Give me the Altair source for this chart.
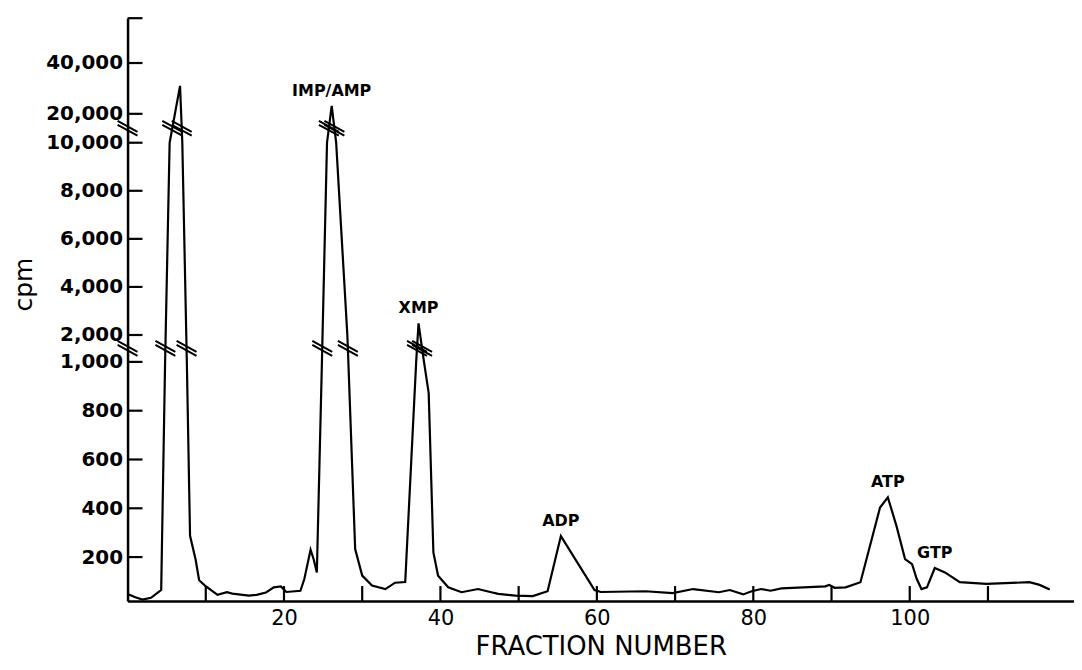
import altair as alt
import pandas as pd

# ---- data ----
FRACTION = [0.0, 1.0, 1.9, 3.0, 3.9, 4.3, 4.8, 5.38, 6.71, 7.0, 7.58, 7.99, 8.7, 9.15, 9.9,
            11.5, 12.7, 13.4, 15.5, 16.5, 17.7, 18.7, 19.6, 20.3, 22.1, 22.6, 23.4, 23.8, 24.2,
            24.85, 25.5, 26.1, 26.67, 28.1, 28.23, 29.1, 30.0, 31.25, 32.96, 34.2, 35.5,
            36.9, 37.2, 37.9, 38.5, 39.1, 39.7, 41.0, 42.7, 44.8, 46.5, 47.4, 49.6, 51.8,
            53.7, 55.4, 59.7, 60.5, 66.2, 69.7, 72.3, 75.6, 77.0, 78.7, 79.8, 81.0, 82.2,
            83.6, 89.2, 89.7, 90.4, 91.8, 93.7, 96.2, 97.2, 98.3, 99.4, 100.3, 100.9, 101.5,
            102.2, 103.2, 104.5, 106.4, 109.8, 115.3, 116.6, 117.9]
CPM = [49, 35, 26, 33, 55, 65, 1000, 10000, 31000, 10000, 1000, 287, 190, 105, 83,
       45, 56, 50, 42, 45, 55, 76, 80, 57, 62, 110, 230, 190, 137,
       1000, 10000, 23100, 10000, 2000, 1000, 233, 124, 83, 69, 95, 98,
       1000, 2485, 1000, 872, 219, 124, 76, 56, 69, 56, 49, 42, 40,
       60, 286, 65, 57, 60, 52, 69, 56, 65, 47, 60, 69, 62,
       72, 80, 86, 74, 76, 97, 403, 445, 328, 192, 171, 110, 69,
       76, 155, 137, 97, 90, 97, 86, 67]

Y_TICKS = [200, 400, 600, 800, 1000, 2000, 4000, 6000, 8000, 10000, 20000, 40000]
X_TICKS = [10, 20, 30, 40, 50, 60, 70, 80, 90, 100, 110]
X_LABELS = [20, 40, 60, 80, 100]
PEAK_NAMES = ["IMP/AMP", "XMP", "ADP", "ATP", "GTP"]
PEAK_FRACTIONS = [26.1, 37.2, 55.4, 97.2, 103.2]

# broken y axis: (cpm_lo, cpm_hi, display_lo, display_hi)
SEGMENTS = [(20, 1000, 0, 240), (2000, 10000, 267, 460), (20000, 40000, 489, 540)]
Y_TOP = 585
X_MAX = 121


def disp(v):
    if v <= 1500:
        lo, hi, dlo, dhi = SEGMENTS[0]
    elif v <= 15000:
        lo, hi, dlo, dhi = SEGMENTS[1]
    else:
        lo, hi, dlo, dhi = SEGMENTS[2]
    return dlo + (v - lo) * (dhi - dlo) / (hi - lo)


GAPS = [(SEGMENTS[0][3] + SEGMENTS[1][2]) / 2, (SEGMENTS[1][3] + SEGMENTS[2][2]) / 2]

curve = pd.DataFrame({"f": FRACTION, "cpm": CPM})
curve["d"] = [disp(v) for v in CPM]

# break marks where the curve crosses a gap
brk_rows = []
for i in range(len(FRACTION) - 1):
    d0, d1 = curve["d"][i], curve["d"][i + 1]
    for g in GAPS:
        if (d0 - g) * (d1 - g) < 0:
            t = (g - d0) / (d1 - d0)
            brk_rows.append({"f": FRACTION[i] + t * (FRACTION[i + 1] - FRACTION[i]), "d": g})
brk_df = pd.DataFrame(brk_rows)
axis_brk_df = pd.DataFrame({"d": GAPS})

ytick_df = pd.DataFrame({"d": [disp(v) for v in Y_TICKS] + [Y_TOP]})
xtick_df = pd.DataFrame({"f": X_TICKS})

peak_cpm = [CPM[FRACTION.index(p)] for p in PEAK_FRACTIONS]
peaks_df = pd.DataFrame({"name": PEAK_NAMES, "f": PEAK_FRACTIONS,
                         "d": [disp(v) for v in peak_cpm]})

label_expr = ""
for v in Y_TICKS:
    label_expr += f"abs(datum.value - {disp(v):.4f}) < 0.01 ? '{v:,}' : "
label_expr += "''"

W, H = 950, Y_TOP
FONT = "DejaVu Sans"
xscale = alt.Scale(domain=[0, X_MAX], nice=False, zero=False)
yscale = alt.Scale(domain=[0, Y_TOP], nice=False, zero=False)
xaxis = alt.Axis(
    values=X_LABELS, ticks=False, grid=False, title="FRACTION NUMBER",
    labelFont=FONT, labelFontSize=21, labelPadding=7,
    titleFont=FONT, titleFontSize=26, titleFontWeight="normal", titlePadding=5)
yaxis = alt.Axis(
    values=[disp(v) for v in Y_TICKS], labelExpr=label_expr, ticks=False, grid=False,
    labelFont=FONT, labelFontSize=20, labelFontWeight="bold", labelPadding=5,
    title="cpm", titleFont=FONT, titleFontSize=25, titleFontWeight="normal",
    titleAngle=270, titleX=-104, titleY=267, titleAlign="center", titleBaseline="middle")


def X():
    return alt.X("f:Q", scale=xscale, axis=xaxis)


def Y():
    return alt.Y("d:Q", scale=yscale, axis=yaxis)


line = alt.Chart(curve).mark_line(color="black", strokeWidth=2.2).encode(x=X(), y=Y())

yticks = alt.Chart(ytick_df).mark_rule(color="black", strokeWidth=2.2).encode(
    y=Y(), x=alt.value(0), x2=alt.value(15))

xticks = alt.Chart(xtick_df).mark_rule(color="black", strokeWidth=2.2).encode(
    x=X(), y=alt.value(H), y2=alt.value(H - 15))

BREAK_SHAPE = "M-1,-0.75L1,0.35M-1,-0.35L1,0.75"
breaks = alt.Chart(brk_df).mark_point(shape=BREAK_SHAPE, size=400, filled=False,
                                      color="black", strokeWidth=2, opacity=1).encode(
    x=X(), y=Y())

axis_breaks = alt.Chart(axis_brk_df).mark_point(shape=BREAK_SHAPE, size=400, filled=False,
                                                color="black", strokeWidth=2, opacity=1).encode(
    x=alt.value(0), y=Y())

labels = alt.Chart(peaks_df).mark_text(font=FONT, fontSize=16, fontWeight="bold",
                                       baseline="bottom", dy=-7, color="black").encode(
    x=X(), y=Y(), text="name:N")

chart = alt.layer(line, yticks, xticks, breaks, axis_breaks, labels).properties(
    width=W, height=H,
    autosize=alt.AutoSizeParams(type="none"),
    padding={"left": 120, "top": 9, "right": 0, "bottom": 60},
    background="white",
).configure_view(stroke=None).configure_axis(
    domainColor="black", domainWidth=2.5, labelColor="black", titleColor="black")

chart.save("out.html", embed_options={"renderer": "svg", "actions": False})
